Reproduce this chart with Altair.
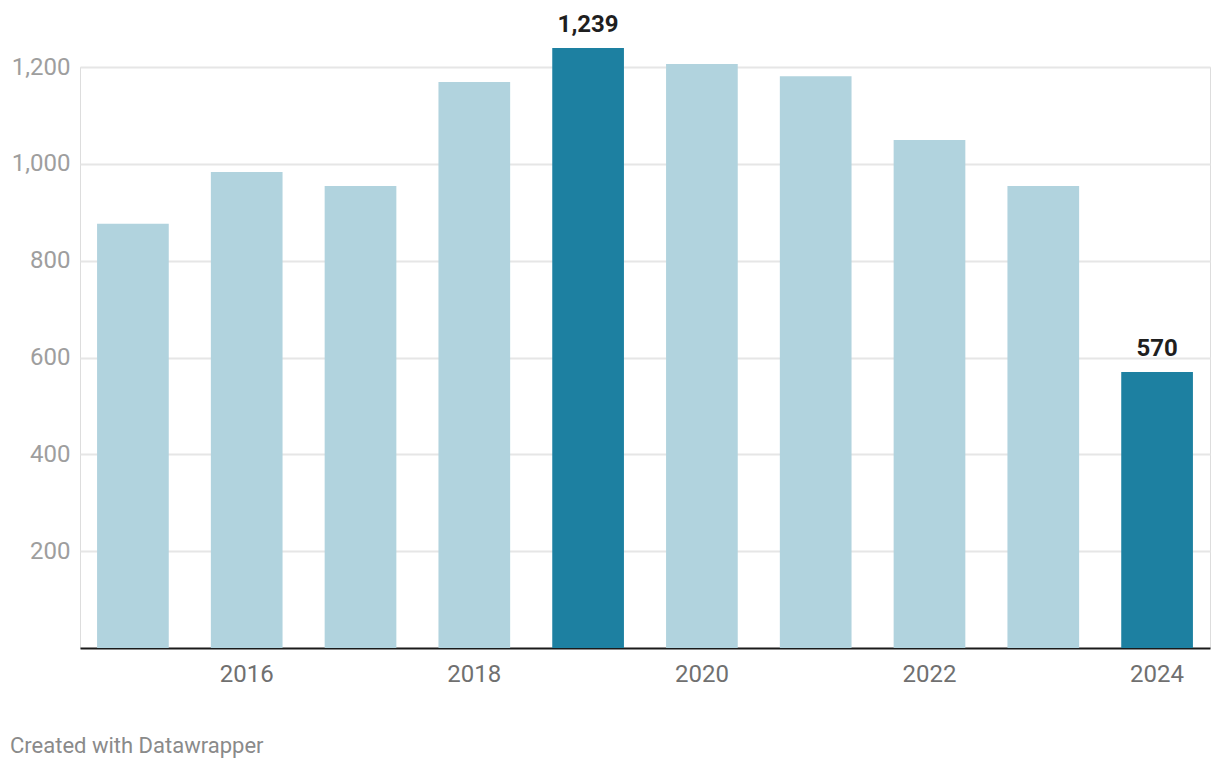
import altair as alt
import pandas as pd

years = [2015, 2016, 2017, 2018, 2019, 2020, 2021, 2022, 2023, 2024]
values = [876, 983, 954, 1169, 1239, 1206, 1181, 1049, 954, 570]
kinds = ["normal", "normal", "normal", "normal", "highlight",
         "normal", "normal", "normal", "normal", "highlight"]
x_tick_years = [2016, 2018, 2020, 2022, 2024]
y_ticks = [200, 400, 600, 800, 1000, 1200]

df = pd.DataFrame({"year": years, "value": values, "kind": kinds})

x_enc = alt.X(
    "year:O",
    scale=alt.Scale(paddingInner=0.37, paddingOuter=0.15),
    axis=alt.Axis(
        values=x_tick_years, labelAngle=0, title=None, domain=True,
        domainColor="#1a1a1a", domainWidth=2, ticks=False, labelPadding=14,
        labelFontSize=24, labelColor="#707070", labelFont="Roboto", grid=False,
    ),
)
y_enc = alt.Y(
    "value:Q",
    scale=alt.Scale(domain=[0, 1200], nice=False),
    axis=alt.Axis(
        values=y_ticks, title=None, domain=False, ticks=False, labelPadding=10,
        grid=True, gridColor="#e6e6e6", gridWidth=2, labelFontSize=24,
        labelColor="#9e9e9e", labelFont="Roboto", format=",.0f",
    ),
)

base = alt.Chart(df)
bars = base.mark_bar().encode(
    x=x_enc,
    y=y_enc,
    color=alt.Color(
        "kind:N",
        scale=alt.Scale(domain=["normal", "highlight"], range=["#b1d3de", "#1d80a1"]),
        legend=None,
    ),
)
labels = base.transform_filter(alt.datum.kind == "highlight").mark_text(
    dy=-16, baseline="alphabetic", fontSize=24, fontWeight="bold",
    color="#1f1f1f", font="Roboto",
).encode(x=x_enc, y=y_enc, text=alt.Text("value:Q", format=",.0f"))

chart = alt.layer(bars, labels).properties(
    width=1130,
    height=581,
    padding={"left": 80, "top": 67, "right": 10, "bottom": 122},
    autosize=alt.AutoSizeParams(type="none"),
    title=alt.TitleParams(
        "Created with Datawrapper", orient="bottom", anchor="start", frame="group",
        dx=-70, offset=50, fontSize=22, color="#8a8a8a", fontWeight="normal",
        font="Roboto",
    ),
).configure_view(stroke=None).configure(background="white")

chart.save("out.html", embed_options={"renderer": "svg", "actions": False})
